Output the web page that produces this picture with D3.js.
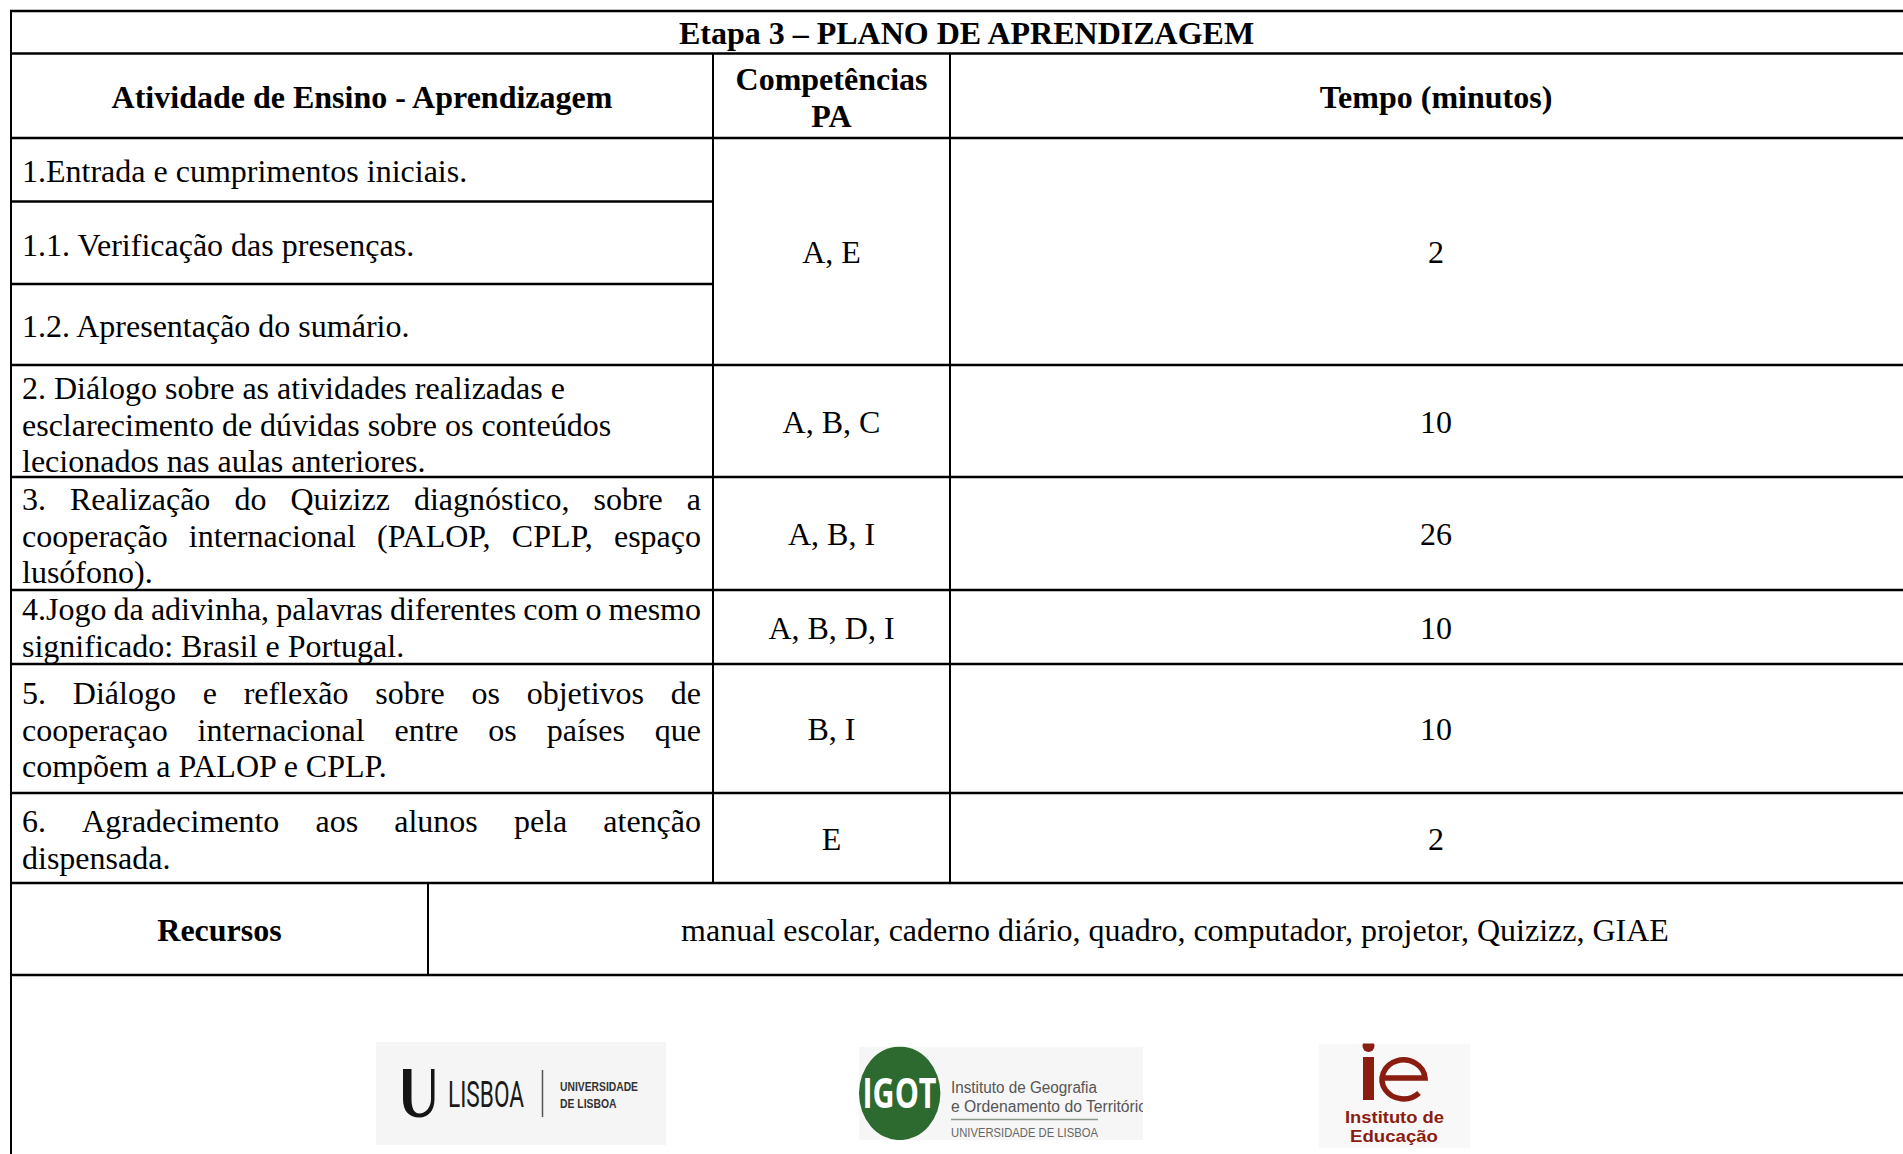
<!DOCTYPE html>
<html><head><meta charset="utf-8">
<script src="https://cdn.jsdelivr.net/npm/d3@7"></script>
<style>html,body{margin:0;padding:0;background:#fff;overflow:hidden}</style>
</head><body>
<script>
// ---------- DATA ----------
const titulo = "Etapa 3 – PLANO DE APRENDIZAGEM";
const cabecalhoAtividade = "Atividade de Ensino - Aprendizagem";
const cabecalhoCompetencias = ["Competências", "PA"];
const cabecalhoTempo = "Tempo (minutos)";
const linhasAtividades = [
  ["1.Entrada e cumprimentos iniciais."],
  ["1.1. Verificação das presenças."],
  ["1.2. Apresentação do sumário."],
  ["2. Diálogo sobre as atividades realizadas e", "esclarecimento de dúvidas sobre os conteúdos", "lecionados nas aulas anteriores."],
  ["3. Realização do Quizizz diagnóstico, sobre a", "cooperação internacional (PALOP, CPLP, espaço", "lusófono)."],
  ["4.Jogo da adivinha, palavras diferentes com o mesmo", "significado: Brasil e Portugal."],
  ["5. Diálogo e reflexão sobre os objetivos de", "cooperaçao internacional entre os países que", "compõem a PALOP e CPLP."],
  ["6. Agradecimento aos alunos pela atenção", "dispensada."]
];
const alinhamento = ["left", "left", "left", "left", "justify", "justify", "justify", "justify"];
const competencias = ["A, E", "A, B, C", "A, B, I", "A, B, D, I", "B, I", "E"];
const tempos = ["2", "10", "26", "10", "10", "2"];
const blocos = [[0, 2], [3, 3], [4, 4], [5, 5], [6, 6], [7, 7]]; // activity rows covered by each value
const recursosRotulo = "Recursos";
const recursos = "manual escolar, caderno diário, quadro, computador, projetor, Quizizz, GIAE";

// ---------- LAYOUT ----------
const W = 1903, H = 1154;
const rowKeys = ["titulo", "cabecalho", "a0", "a1", "a2", "a3", "a4", "a5", "a6", "a7", "recursos", "logos"];
const rowEdges = [11, 53.5, 138, 201.5, 284, 365, 477, 590, 664, 793, 883, 975, 1170];
const yTop = d3.scaleOrdinal(rowKeys, rowEdges.slice(0, -1));
const yBot = d3.scaleOrdinal(rowKeys, rowEdges.slice(1));
const colKeys = ["atividade", "competencias", "tempo", "fim"];
const x = d3.scaleOrdinal(colKeys, [11, 713, 950, 1922]);
const xRecursos = 428;
const firstBaseline = [43.5, 54.5, 53, 34, 33, 30, 40, 39];
const lineH = 36.7;
const padL = 11, padR = 12;
const SERIF = "'Liberation Serif','Times New Roman',serif";
const SANS = "'Liberation Sans', Arial, sans-serif";

const svg = d3.select("body").append("svg").attr("width", W).attr("height", H)
  .style("display", "block");

const tmp = svg.append("text").attr("font-family", SERIF).attr("font-size", 32).attr("x", -9999).attr("y", -9999);
function measure(t) { tmp.text(t); return tmp.node().getComputedTextLength(); }

const gText = svg.append("g").attr("font-family", SERIF).attr("font-size", 32).attr("fill", "#000");

function centered(txt, cx, baseline, bold) {
  gText.append("text").attr("x", cx).attr("y", baseline).attr("text-anchor", "middle")
    .attr("font-weight", bold ? "bold" : null).text(txt);
}

// title
centered(titulo, (x("atividade") + x("fim")) / 2, (yTop("titulo") + yBot("titulo")) / 2 + 11.5, true);
// headers
const hMid = (yTop("cabecalho") + yBot("cabecalho")) / 2;
centered(cabecalhoAtividade, (x("atividade") + x("competencias")) / 2, hMid + 12, true);
cabecalhoCompetencias.forEach((t, i) => centered(t, (x("competencias") + x("tempo")) / 2, hMid - 5.5 + i * (lineH + 0.5), true));
centered(cabecalhoTempo, (x("tempo") + x("fim")) / 2, hMid + 12, true);

// activities
linhasAtividades.forEach((linhas, r) => {
  const key = "a" + r;
  const x0 = x("atividade") + padL, x1 = x("competencias") - padR;
  linhas.forEach((ln, i) => {
    const yb = yTop(key) + firstBaseline[r] + i * lineH;
    const just = alinhamento[r] === "justify" && i < linhas.length - 1;
    if (!just) {
      gText.append("text").attr("x", x0).attr("y", yb).text(ln);
    } else {
      const words = ln.split(" ");
      const widths = words.map(measure);
      const gap = (x1 - x0 - d3.sum(widths)) / (words.length - 1);
      const t = gText.append("text").attr("y", yb);
      let cx = x0;
      words.forEach((w, k) => {
        t.append("tspan").attr("x", cx).text(w);
        cx += widths[k] + gap;
      });
    }
  });
});

// competencias & tempos
blocos.forEach((b, i) => {
  const mid = (yTop("a" + b[0]) + yBot("a" + b[1])) / 2;
  centered(competencias[i], (x("competencias") + x("tempo")) / 2, mid + 11.5, false);
  centered(tempos[i], (x("tempo") + x("fim")) / 2, mid + 11.5, false);
});

// recursos
const rMid = (yTop("recursos") + yBot("recursos")) / 2;
centered(recursosRotulo, (x("atividade") + xRecursos) / 2, rMid + 11.5, true);
centered(recursos, (xRecursos + x("fim")) / 2, rMid + 11.5, false);
tmp.remove();

// ---------- GRID LINES ----------
const gLines = svg.append("g").attr("stroke", "#000");
const hLines = [
  [yTop("titulo"), x("atividade"), x("fim")],
  [yTop("cabecalho"), x("atividade"), x("fim")],
  [yTop("a0"), x("atividade"), x("fim")],
  [yTop("a1"), x("atividade"), x("competencias")],
  [yTop("a2"), x("atividade"), x("competencias")],
  [yTop("a3"), x("atividade"), x("fim")],
  [yTop("a4"), x("atividade"), x("fim")],
  [yTop("a5"), x("atividade"), x("fim")],
  [yTop("a6"), x("atividade"), x("fim")],
  [yTop("a7"), x("atividade"), x("fim")],
  [yTop("recursos"), x("atividade"), x("fim")],
  [yTop("logos"), x("atividade"), x("fim")]
];
gLines.selectAll("line.h").data(hLines).join("line").attr("class", "h")
  .attr("x1", d => d[1] - 1).attr("x2", d => d[2] + 1).attr("y1", d => d[0]).attr("y2", d => d[0])
  .attr("stroke-width", 2.5);
const vLines = [
  [x("atividade"), yTop("titulo"), H + 10],
  [x("competencias"), yTop("cabecalho"), yTop("recursos")],
  [x("tempo"), yTop("cabecalho"), yTop("recursos")],
  [xRecursos, yTop("recursos"), yTop("logos")],
  [x("fim"), yTop("titulo"), H + 10]
];
gLines.selectAll("line.v").data(vLines).join("line").attr("class", "v")
  .attr("x1", d => d[0]).attr("x2", d => d[0]).attr("y1", d => d[1]).attr("y2", d => d[2])
  .attr("stroke-width", 2);

// ---------- LOGOS ----------
const logos = svg.append("g");
const defs = svg.append("defs");
// ULisboa
const ul = logos.append("g");
ul.append("rect").attr("x", 376).attr("y", 1042).attr("width", 290).attr("height", 103).attr("fill", "#f5f5f5");
ul.append("path").attr("fill", "#151515")
  .attr("d", "M403,1069 H411.5 V1099 C411.5,1108 414,1113.5 419.5,1113.5 C425,1113.5 431,1108 431,1099 V1069 H434.5 V1099 C434.5,1111 428,1117.5 419.5,1117.5 C409,1117.5 403,1111 403,1099 Z");
// "LISBOA": small font stretched vertically so its box stays narrow
const lis = ul.append("text").attr("font-family", "Roboto, sans-serif").attr("font-size", 24)
  .attr("fill", "#1a1a1a").text("LISBOA");
const lisW = lis.node().getComputedTextLength();
lis.attr("transform", `translate(448,1107.3) scale(${76 / lisW},1.55)`);
ul.append("line").attr("x1", 542.5).attr("x2", 542.5).attr("y1", 1070).attr("y2", 1117).attr("stroke", "#555").attr("stroke-width", 1.5);
ul.append("text").attr("x", 560).attr("y", 1091).attr("font-family", SANS).attr("font-size", 13)
  .attr("font-weight", "bold").attr("fill", "#333").attr("textLength", 78).attr("lengthAdjust", "spacingAndGlyphs").text("UNIVERSIDADE");
ul.append("text").attr("x", 560).attr("y", 1108).attr("font-family", SANS).attr("font-size", 13)
  .attr("font-weight", "bold").attr("fill", "#333").attr("textLength", 56.5).attr("lengthAdjust", "spacingAndGlyphs").text("DE LISBOA");

// IGOT
const ig = logos.append("g");
defs.append("clipPath").attr("id", "igclip").append("rect")
  .attr("x", 859).attr("y", 1046.5).attr("width", 284).attr("height", 93.5);
ig.attr("clip-path", "url(#igclip)");
ig.append("rect").attr("x", 859).attr("y", 1046.5).attr("width", 284).attr("height", 93.5).attr("fill", "#f6f6f6");
ig.append("ellipse").attr("cx", 899.7).attr("cy", 1093.3).attr("rx", 40.7).attr("ry", 46.8).attr("fill", "#2c6a2f");
ig.append("text").attr("x", 862.5).attr("y", 1108).attr("font-family", "'Open Sans', sans-serif").attr("font-size", 42)
  .attr("font-weight", "bold").attr("fill", "#fff").attr("textLength", 74).attr("lengthAdjust", "spacingAndGlyphs").text("IGOT");
ig.append("text").attr("x", 951).attr("y", 1092.5).attr("font-family", SANS).attr("font-size", 16)
  .attr("fill", "#555").attr("textLength", 146).attr("lengthAdjust", "spacingAndGlyphs").text("Instituto de Geografia");
ig.append("text").attr("x", 951).attr("y", 1111.5).attr("font-family", SANS).attr("font-size", 16)
  .attr("fill", "#555").attr("textLength", 196).attr("lengthAdjust", "spacingAndGlyphs").text("e Ordenamento do Território");
ig.append("line").attr("x1", 951).attr("x2", 1098).attr("y1", 1119.5).attr("y2", 1119.5).attr("stroke", "#8c9a8c").attr("stroke-width", 1.5);
ig.append("text").attr("x", 951).attr("y", 1136.5).attr("font-family", SANS).attr("font-size", 12)
  .attr("fill", "#666").attr("textLength", 147).attr("lengthAdjust", "spacingAndGlyphs").text("UNIVERSIDADE DE LISBOA");

// IE
const ie = logos.append("g");
defs.append("clipPath").attr("id", "ieclip").append("rect")
  .attr("x", 1318.5).attr("y", 1043.5).attr("width", 152).attr("height", 105);
ie.attr("clip-path", "url(#ieclip)");
ie.append("rect").attr("x", 1318.5).attr("y", 1043.5).attr("width", 152).attr("height", 105).attr("fill", "#f8f8f8");
const red = "#8a1c10";
ie.append("circle").attr("cx", 1368.5).attr("cy", 1046).attr("r", 6).attr("fill", red);
ie.append("rect").attr("x", 1363).attr("y", 1057).attr("width", 11).attr("height", 43).attr("fill", red);
ie.append("path").attr("fill", "none").attr("stroke", red).attr("stroke-width", 5.5)
  .attr("d", "M1382,1078 H1425 A21.5,19.5 0 1 0 1419,1093");
ie.append("text").attr("x", 1394.5).attr("y", 1123).attr("text-anchor", "middle").attr("font-family", SANS)
  .attr("font-size", 17).attr("font-weight", "bold").attr("fill", red).attr("textLength", 99).attr("lengthAdjust", "spacingAndGlyphs").text("Instituto de");
ie.append("text").attr("x", 1394).attr("y", 1142).attr("text-anchor", "middle").attr("font-family", SANS)
  .attr("font-size", 17).attr("font-weight", "bold").attr("fill", red).attr("textLength", 88).attr("lengthAdjust", "spacingAndGlyphs").text("Educação");
</script>
</body></html>
